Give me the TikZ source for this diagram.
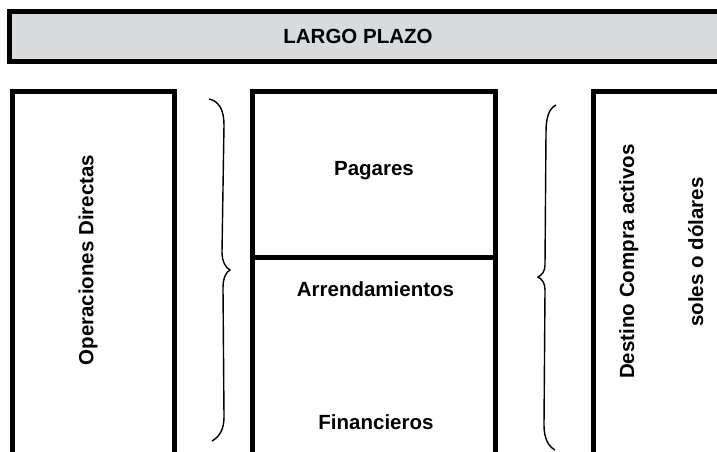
\documentclass[tikz,border=0pt]{standalone}
\usepackage{fontspec}
\setmainfont{Liberation Sans}
\definecolor{barfill}{HTML}{D9DADC}
\begin{document}
\begin{tikzpicture}[x=1pt,y=-1pt,
  boxline/.style={line width=5pt},
  bracepath/.style={line width=1.4pt},
  lbl/.style={font=\fontsize{20.5}{24}\selectfont\bfseries, inner sep=0pt, anchor=base},
  vlbl/.style={lbl, rotate=90}]
\useasboundingbox (0,0) rectangle (717,451);
\clip (0,0) rectangle (717,451);
\fill[white] (0,0) rectangle (717,451);
% top bar
\draw[boxline, fill=barfill] (9.5,11.5) rectangle (740,61);
\node[lbl] (largo) at (358,43.3) {LARGO PLAZO};
% left box
\draw[boxline] (12,470) -- (12,91) -- (174,91) -- (174,470);
\node[vlbl] (oper) at (93.3,260) {Operaciones Directas};
% middle box
\draw[boxline] (252.5,470) -- (252.5,91) -- (495.5,91) -- (495.5,470);
\draw[boxline] (252.5,257.5) -- (495.5,257.5);
\node[lbl] (pag) at (374,175) {Pagares};
\node[lbl] (arr) at (375.5,296.7) {Arrendamientos};
\node[lbl] (fin) at (376,429.3) {Financieros};
% right box
\draw[boxline] (593,470) -- (593,91) -- (740,91);
\node[vlbl] (dest) at (634,261.5) {Destino Compra activos};
\node[vlbl] (soles) at (703,252) {soles o dólares};
% left brace
\draw[bracepath] (209,99) .. controls (219,101) and (224,110) .. (224,125)
  -- (222,252) .. controls (222,262) and (226,268) .. (230,270)
  .. controls (226,272) and (223,278) .. (223,288)
  -- (224,417) .. controls (224,430) and (219,437) .. (212,441);
% right brace
\draw[bracepath] (556,105) .. controls (549,108) and (546,118) .. (546,132)
  -- (545,265) .. controls (545,271) and (542,275) .. (538,277)
  .. controls (542,279) and (545,283) .. (545,290)
  -- (544,425) .. controls (544,438) and (548,446) .. (555,450);
\end{tikzpicture}
\end{document}
